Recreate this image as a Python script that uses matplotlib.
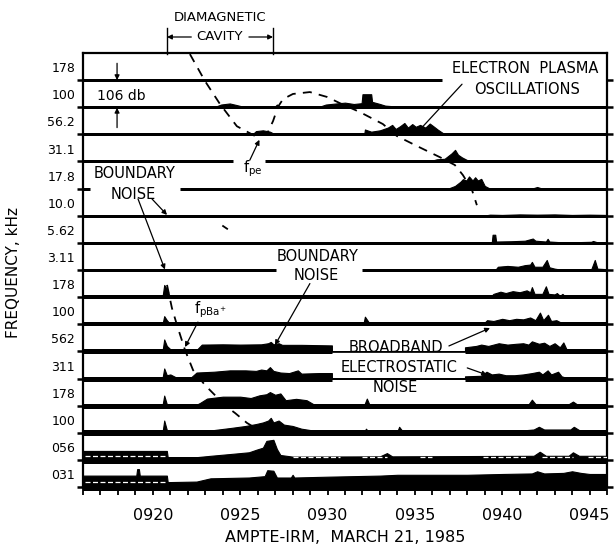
import matplotlib
matplotlib.use('Agg')
import matplotlib.pyplot as plt
import matplotlib.transforms as mtransforms

plt.rcParams['font.family'] = 'DejaVu Sans'

# channel labels, top to bottom (kHz, then Hz-range channels)
channels = ['178', '100', '56.2', '31.1', '17.8', '10.0', '5.62', '3.11',
            '178', '100', '562', '311', '178', '100', '056', '031']

# where each baseline is drawn (minutes after 09:00)
full = [(16, 46)]
baseline_spans = [
    [(16, 36.55)], full, full, [(16, 24.6), (26.4, 46)], [(16, 16.4), (21.55, 46)],
    full, full, [(16, 27.05), (31.97, 46)], full, full,
    [(16, 30.25), (37.87, 46)], [(16, 30.25), (37.87, 46)], full, full, full, full]
line_px = [3, 3, 3, 3, 3, 3, 3, 3, 4, 4, 5, 5, 5, 6, 7, 8]

# burst amplitude above each baseline (time, fraction of channel spacing)
p178k = []
p100k = [(23.5, 0), (23.9, 0.1), (24.4, 0.14), (24.8, 0.08), (25.3, 0), (26.95, 0), (27.1, 0.1),
         (27.3, 0), (29.45, 0), (29.9, 0.1), (30.5, 0.14), (31.0, 0.17), (31.5, 0.12), (31.95, 0.15),
         (32.0, 0.48), (32.5, 0.48), (32.55, 0.2), (33.0, 0.12), (33.3, 0.06), (33.9, 0.03), (34.7, 0)]
p56k = [(25.7, 0), (25.9, 0.12), (26.3, 0.15), (26.7, 0.1), (27.0, 0), (32.1, 0), (32.14, 0.18),
        (32.5, 0.1), (33.0, 0.15), (33.45, 0.25), (33.7, 0.35), (33.9, 0.2), (34.15, 0.3), (34.4, 0.42),
        (34.6, 0.25), (34.85, 0.38), (35.05, 0.28), (35.3, 0.35), (35.6, 0.25), (35.85, 0.4),
        (36.1, 0.28), (36.3, 0.18), (36.6, 0.05), (37.0, 0)]
p31k = [(35.8, 0), (36.25, 0.08), (36.7, 0.1), (37.1, 0.3), (37.3, 0.43), (37.47, 0.25), (37.7, 0.15),
        (38.0, 0.05), (38.3, 0)]
p17k = [(36.9, 0), (37.3, 0.1), (37.6, 0.25), (37.75, 0.35), (37.95, 0.3), (38.1, 0.45), (38.3, 0.3),
        (38.45, 0.42), (38.6, 0.3), (38.8, 0.36), (39.0, 0.1), (39.3, 0), (41.7, 0), (42.0, 0.06), (42.3, 0)]
p10k = [(38.9, 0), (39.3, 0.04), (40.0, 0.03), (41.0, 0.05), (42.0, 0.04), (43.0, 0.05), (44.0, 0.03),
        (45.0, 0.04), (46, 0.03)]
p5k = [(39.4, 0), (39.45, 0.3), (39.6, 0.3), (39.65, 0.05), (40.5, 0.06), (41.3, 0.08), (41.75, 0.16),
       (41.9, 0.08), (42.5, 0.05), (42.6, 0.15), (42.7, 0.05), (43.2, 0.03), (44.5, 0.03), (45.1, 0.04),
       (45.2, 0.07), (45.4, 0.03), (46, 0.02)]
p3k = [(39.6, 0), (39.75, 0.12), (40.3, 0.15), (40.9, 0.12), (41.3, 0.18), (41.6, 0.2), (41.7, 0.3),
       (41.85, 0.12), (42.3, 0.12), (42.55, 0.37), (42.7, 0.1), (43.0, 0.05), (43.3, 0.02), (45.1, 0.03),
       (45.3, 0.37), (45.45, 0.05), (46, 0.03)]
p178 = [(20.55, 0), (20.65, 0.45), (20.8, 0.3), (20.95, 0.05), (21.3, 0), (32.1, 0), (32.25, 0.07),
        (32.4, 0), (39.3, 0), (39.5, 0.12), (39.9, 0.2), (40.2, 0.15), (40.6, 0.22), (41.0, 0.18),
        (41.4, 0.25), (41.6, 0.18), (41.7, 0.37), (41.85, 0.12), (42.3, 0.12), (42.5, 0.4), (42.65, 0.12),
        (43.0, 0.1), (43.13, 0.15), (43.3, 0.05), (43.45, 0.12), (43.6, 0.02), (43.7, 0)]
p100 = [(20.55, 0), (20.65, 0.3), (20.8, 0.15), (21.0, 0), (26.6, 0), (26.7, 0.06), (26.9, 0), (32.05, 0),
        (32.14, 0.28), (32.35, 0.08), (32.5, 0), (38.9, 0), (39.13, 0.15), (39.5, 0.12), (40.0, 0.2),
        (40.4, 0.15), (40.8, 0.2), (41.2, 0.18), (41.6, 0.25), (41.9, 0.15), (42.16, 0.43), (42.35, 0.15),
        (42.62, 0.35), (42.8, 0.12), (43.1, 0.15), (43.4, 0.05), (43.7, 0)]
p562 = [(20.55, 0), (20.65, 0.44), (20.8, 0.2), (21.0, 0.08), (22.5, 0.05), (22.8, 0.25), (24, 0.26),
        (25, 0.25), (26.2, 0.26), (26.6, 0.3), (26.75, 0.35), (26.9, 0.26), (27.2, 0.3), (27.4, 0.24),
        (28.5, 0.24), (30.25, 0.22), (30.25, 0),
        (37.87, 0), (37.87, 0.15), (38.5, 0.2), (38.8, 0.25), (39.2, 0.2), (39.8, 0.3), (40.3, 0.25),
        (40.8, 0.28), (41.2, 0.3), (41.5, 0.25), (41.7, 0.37), (42.1, 0.28), (42.4, 0.32), (42.7, 0.2),
        (43.0, 0.3), (43.3, 0.15), (43.5, 0.33), (43.7, 0.05), (44, 0)]
p311 = [(20.55, 0), (20.65, 0.37), (20.8, 0.12), (21.0, 0.15), (21.3, 0.05), (22.2, 0.05), (22.5, 0.22),
        (23.5, 0.25), (24.4, 0.3), (25.3, 0.3), (25.9, 0.28), (26.2, 0.33), (26.5, 0.3), (26.7, 0.42),
        (26.9, 0.28), (27.3, 0.22), (27.8, 0.2), (28.3, 0.3), (28.5, 0.18), (29.5, 0.2), (30.25, 0.2),
        (30.25, 0),
        (37.87, 0), (37.87, 0.08), (38.8, 0.1), (39.1, 0.25), (39.4, 0.15), (39.8, 0.18), (40.2, 0.12),
        (40.7, 0.12), (41.2, 0.15), (41.7, 0.2), (42.1, 0.25), (42.3, 0.15), (42.6, 0.3), (42.8, 0.15),
        (43.2, 0.25), (43.4, 0.08), (43.7, 0.02), (44, 0)]
p178b = [(20.55, 0), (20.65, 0.37), (20.8, 0.05), (22.4, 0), (22.7, 0.1), (23.1, 0.26), (24.0, 0.33),
         (25.0, 0.33), (25.6, 0.28), (26.1, 0.38), (26.5, 0.42), (26.7, 0.5), (27.0, 0.4), (27.3, 0.45),
         (27.6, 0.2), (28.2, 0.25), (28.8, 0.2), (29.2, 0.05), (29.5, 0.02), (32.1, 0.02), (32.25, 0.26),
         (32.4, 0.03), (34.0, 0.03), (41.5, 0.04), (41.7, 0.22), (41.9, 0.06), (43.8, 0.05), (44.05, 0.15),
         (44.3, 0.04), (46, 0.02)]
p100b = [(20.55, 0), (20.65, 0.45), (20.8, 0.1), (21.0, 0.06), (22.6, 0.04), (23.5, 0.1), (24.5, 0.18),
         (25.3, 0.25), (25.9, 0.32), (26.3, 0.38), (26.6, 0.45), (26.75, 0.55), (26.9, 0.38), (27.2, 0.45),
         (27.5, 0.3), (28.0, 0.25), (28.5, 0.15), (29.0, 0.1), (29.3, 0.03), (32.1, 0.03), (32.2, 0.15),
         (32.35, 0.03), (34.0, 0.05), (34.1, 0.22), (34.3, 0.05), (40.5, 0.05), (41.8, 0.12), (42.1, 0.22),
         (42.4, 0.12), (43.9, 0.12), (44.1, 0.22), (44.4, 0.1), (46, 0.05)]
p056 = [(16, 0.33), (20.8, 0.33), (20.85, 0.1), (22.5, 0.1), (23.3, 0.15), (24.5, 0.22), (25.5, 0.28),
        (25.95, 0.38), (26.3, 0.45), (26.5, 0.7), (26.9, 0.74), (27.1, 0.4), (27.3, 0.18), (28, 0.12),
        (33.0, 0.13), (33.4, 0.25), (33.7, 0.13), (41.8, 0.15), (42.15, 0.3), (42.5, 0.15), (43.8, 0.15),
        (44.05, 0.28), (44.4, 0.15), (46, 0.15)]
p031 = [(16, 0.42), (19.05, 0.42), (19.1, 0.66), (19.2, 0.66), (19.25, 0.42), (20.8, 0.42), (20.85, 0.18),
        (22.5, 0.2), (23.3, 0.32), (25.5, 0.35), (26.4, 0.4), (26.55, 0.62), (26.9, 0.6), (27.1, 0.35),
        (27.9, 0.35), (28.0, 0.45), (28.1, 0.35), (30, 0.38), (33, 0.42), (34, 0.45), (38, 0.45),
        (40, 0.48), (41.7, 0.5), (42.0, 0.58), (42.4, 0.5), (43.5, 0.52), (44.0, 0.58), (44.5, 0.52),
        (45, 0.48), (46, 0.48)]
profiles = [p178k, p100k, p56k, p31k, p17k, p10k, p5k, p3k,
            p178, p100, p562, p311, p178b, p100b, p056, p031]

# white dropout dashes inside the low-frequency bands (channel, start, end, height)
dropouts = [(14, 16.1, 20.7, 0.15), (15, 16.1, 20.7, 0.2), (14, 28.0, 30.7, 0.1),
            (14, 32.0, 33.4, 0.1), (14, 35.3, 36.0, 0.1), (14, 38.9, 41.4, 0.1),
            (14, 42.3, 44.05, 0.1), (14, 44.9, 46, 0.1)]

# dashed plasma-frequency traces (time, channel level; bottom baseline = 0)
fpe_t = [22.12, 22.98, 23.84, 24.81, 25.85, 26.53, 26.88, 27.16, 27.45, 28.02, 28.99, 29.97,
         30.71, 31.86, 33.17, 33.97, 35.12, 36.43, 37.29, 37.75, 38.27, 38.55]
fpe_y = [15.96, 14.97, 14.12, 13.3, 12.94, 13.01, 13.49, 14.01, 14.3, 14.49, 14.56, 14.38,
         14.15, 13.82, 13.38, 12.94, 12.57, 12.16, 11.87, 11.5, 10.95, 10.39]
fpba_t = [20.81, 21.09, 21.38, 21.84, 22.3, 22.98, 23.44, 24.24, 24.7, 25.39, 26.53]
fpba_y = [7.45, 6.6, 5.97, 5.05, 4.31, 3.76, 3.46, 2.95, 2.73, 2.36, 1.92]

minutes = list(range(16, 47))
major = [20, 25, 30, 35, 40, 45]

fig = plt.figure(figsize=(6.14, 5.51), dpi=100)
ax = fig.add_axes([83 / 614, 64 / 551, 524 / 614, 434 / 551])
ax.set_xlim(16, 46)
ax.set_ylim(0, 16)

n = len(channels)
for i in range(n):
    lvl = n - 1 - i
    for a, b in baseline_spans[i]:
        ax.plot([a, b], [lvl, lvl], color='k', lw=line_px[i] * 0.72,
                solid_capstyle='butt', clip_on=False, zorder=3)
    if profiles[i]:
        t = [p[0] for p in profiles[i]]
        h = [lvl + p[1] for p in profiles[i]]
        ax.fill_between(t, lvl, h, color='k', lw=0.8, edgecolor='k', zorder=3)
    ax.text(-0.015, lvl + 0.42, channels[i], transform=mtransforms.blended_transform_factory(ax.transAxes, ax.transData),
            ha='right', va='center', fontsize=9)

for ch, a, b, hh in dropouts:
    lvl = n - 1 - ch
    ax.plot([a, b], [lvl + hh, lvl + hh], color='w', lw=0.9, ls=(0, (4, 2)), zorder=4)

ax.plot(fpe_t, fpe_y, color='k', lw=1.3, ls=(0, (5, 4)), clip_on=False, zorder=5)
ax.plot(fpba_t, fpba_y, color='k', lw=1.3, ls=(0, (5, 4)), zorder=5)
ax.plot([24.02, 24.25], [9.62, 9.52], color='k', lw=1.3)

# axes, ticks
for s in ['left', 'right', 'top', 'bottom']:
    ax.spines[s].set_linewidth(1.6)
ax.set_xticks(minutes)
ax.set_xticklabels(['09%02d' % m if m in major else '' for m in minutes], fontsize=11.5)
ax.tick_params(axis='x', direction='out', length=6, width=1.3, pad=9)
ax.set_yticks(range(16))
ax.set_yticklabels([])
ax.tick_params(axis='y', direction='out', length=4.5, width=1.8, left=True, right=True)

arrow = dict(arrowstyle='-|>', lw=0.9, color='k', mutation_scale=7, shrinkA=0, shrinkB=0)
line = dict(arrowstyle='-', lw=0.9, color='k', shrinkA=0, shrinkB=0)

# diamagnetic cavity marker
ax.text(23.84, 17.32, 'DIAMAGNETIC', ha='center', va='center', fontsize=9.5, clip_on=False)
ax.text(23.84, 16.59, 'CAVITY', ha='center', va='center', fontsize=9.5, clip_on=False)
ax.annotate('', xy=(20.81, 16.59), xytext=(22.2, 16.59), arrowprops=arrow, annotation_clip=False)
ax.annotate('', xy=(26.88, 16.59), xytext=(25.5, 16.59), arrowprops=arrow, annotation_clip=False)
ax.plot([20.81, 20.81], [15.96, 16.92], color='k', lw=1.0, clip_on=False)
ax.plot([26.88, 26.88], [15.96, 16.92], color='k', lw=1.0, clip_on=False)

# 106 db scale
ax.text(16.8, 14.42, '106 db', ha='left', va='center', fontsize=10)
ax.annotate('', xy=(17.95, 15.0), xytext=(17.95, 15.62), arrowprops=arrow)
ax.annotate('', xy=(17.95, 13.98), xytext=(17.95, 13.25), arrowprops=arrow)

ax.text(41.3, 15.42, 'ELECTRON  PLASMA', ha='center', va='center', fontsize=10.5)
ax.text(41.4, 14.67, 'OSCILLATIONS', ha='center', va='center', fontsize=10.5)
ax.annotate('', xy=(35.4, 13.25), xytext=(37.7, 14.85), arrowprops=line)

ax.text(25.75, 11.72, '$\\mathregular{f_{pe}}$', ha='center', va='center', fontsize=10.5)
ax.annotate('', xy=(26.1, 12.8), xytext=(25.55, 12.05), arrowprops=arrow)

ax.text(18.98, 11.57, 'BOUNDARY', ha='center', va='center', fontsize=10.5)
ax.text(18.86, 10.8, 'NOISE', ha='center', va='center', fontsize=10.5)
ax.annotate('', xy=(20.81, 10.03), xytext=(19.95, 10.62), arrowprops=arrow)
ax.annotate('', xy=(20.69, 8.02), xytext=(19.15, 10.62), arrowprops=arrow)

ax.text(29.45, 8.48, 'BOUNDARY', ha='center', va='center', fontsize=10.5)
ax.text(29.34, 7.78, 'NOISE', ha='center', va='center', fontsize=10.5)
ax.annotate('', xy=(26.99, 5.23), xytext=(28.99, 7.5), arrowprops=arrow)

ax.text(23.3, 6.55, '$\\mathregular{f_{pBa^{+}}}$', ha='center', va='center', fontsize=10.5)
ax.annotate('', xy=(21.84, 5.16), xytext=(22.58, 6.08), arrowprops=arrow)

ax.text(33.92, 5.16, 'BROADBAND', ha='center', va='center', fontsize=10.5)
ax.text(34.09, 4.42, 'ELECTROSTATIC', ha='center', va='center', fontsize=10.5)
ax.text(33.86, 3.65, 'NOISE', ha='center', va='center', fontsize=10.5)
ax.annotate('', xy=(39.3, 5.86), xytext=(36.95, 5.2), arrowprops=arrow)
ax.annotate('', xy=(39.13, 4.13), xytext=(38.0, 4.39), arrowprops=arrow)

fig.text(14 / 614, 1 - 272 / 551, 'FREQUENCY, kHz', rotation=90, ha='center', va='center', fontsize=11)
fig.text(345 / 614, 1 - 538 / 551, 'AMPTE-IRM,  MARCH 21, 1985', ha='center', va='center', fontsize=11.5)

fig.savefig('out.png', dpi=100)
